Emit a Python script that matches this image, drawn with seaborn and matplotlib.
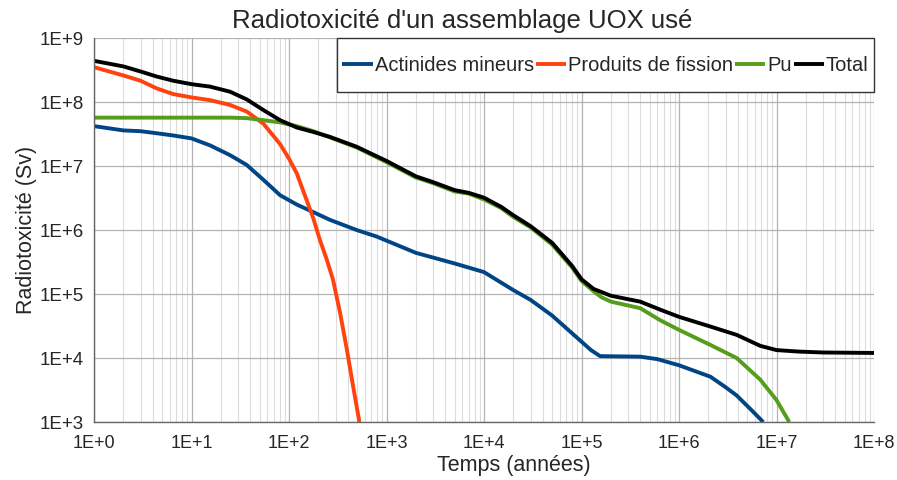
import numpy as np
import pandas as pd
import matplotlib
matplotlib.use('Agg')
import matplotlib.pyplot as plt
import seaborn as sns
from matplotlib.ticker import FuncFormatter, NullFormatter, FixedLocator
from matplotlib.patches import Rectangle

# Radiotoxicity (Sv) vs time (years)
am_t = [1, 2, 3, 4.4, 6.5, 10, 15.5, 24.8, 36.8, 54.5, 81, 120, 178, 263, 494,
        793, 2000, 5000, 1e4, 2e4, 3e4, 5e4, 1e5, 1.25e5, 1.55e5, 4e5, 6e5,
        1e6, 2.1e6, 3e6, 3.9e6, 5.5e6, 7.3e6]
am_v = [4.2e7, 3.6e7, 3.5e7, 3.25e7, 3.0e7, 2.7e7, 2.1e7, 1.48e7, 1.04e7, 6.1e6,
        3.5e6, 2.5e6, 1.9e6, 1.44e6, 1.0e6, 7.9e5, 4.4e5, 3.0e5, 2.2e5, 1.15e5,
        8.1e4, 4.6e4, 1.8e4, 1.33e4, 1.07e4, 1.05e4, 9.6e3, 7.7e3, 5.1e3, 3.5e3,
        2.6e3, 1.55e3, 1e3]

pf_t = [1, 2, 3, 4.4, 6.5, 10, 15.5, 24.8, 36.8, 54.5, 81, 100, 120, 152, 178,
        208, 243, 282, 333, 393, 456, 527]
pf_v = [3.5e8, 2.6e8, 2.15e8, 1.63e8, 1.33e8, 1.18e8, 1.07e8, 9e7, 7.1e7, 4.6e7,
        2.2e7, 1.3e7, 7.7e6, 2.9e6, 1.5e6, 6.9e5, 3.5e5, 1.7e5, 5.2e4, 1.33e4,
        3.5e3, 1e3]

pu_t = [1, 10, 24.8, 36.8, 54.5, 81, 120, 178, 263, 494, 1000, 2000, 3000, 5000,
        7000, 1e4, 1.5e4, 2e4, 3e4, 5e4, 8e4, 1e5, 1.33e5, 1.6e5, 2e5, 4e5, 6.4e5,
        1e6, 2.1e6, 3.9e6, 6.8e6, 1e7, 1.35e7]
pu_v = [5.7e7, 5.7e7, 5.7e7, 5.6e7, 5.2e7, 4.8e7, 4.2e7, 3.5e7, 2.8e7, 1.95e7,
        1.15e7, 6.6e6, 5.4e6, 4.0e6, 3.7e6, 3.0e6, 2.2e6, 1.6e6, 1.1e6, 5.9e5,
        2.6e5, 1.6e5, 1.1e5, 8.9e4, 7.6e4, 6e4, 3.9e4, 2.75e4, 1.6e4, 1e4, 4.6e3,
        2.2e3, 1e3]

tot_t = [1, 2, 3, 4.4, 6.5, 10, 15.5, 24.8, 36.8, 54.5, 81, 120, 178, 263, 494,
         1000, 2000, 3000, 5000, 7000, 1e4, 1.5e4, 2e4, 3e4, 5e4, 8e4, 1e5,
         1.33e5, 2e5, 4e5, 6.4e5, 1e6, 2.1e6, 3.9e6, 6.8e6, 1e7, 1.7e7, 3e7, 1e8]
tot_v = [4.4e8, 3.6e8, 3.0e8, 2.5e8, 2.15e8, 1.9e8, 1.74e8, 1.45e8, 1.1e8, 7.5e7,
         5.2e7, 4.0e7, 3.4e7, 2.85e7, 2.0e7, 1.2e7, 6.9e6, 5.6e6, 4.2e6, 3.8e6,
         3.2e6, 2.3e6, 1.7e6, 1.15e6, 6.3e5, 2.75e5, 1.7e5, 1.2e5, 9.4e4, 7.6e4,
         5.7e4, 4.4e4, 3.1e4, 2.3e4, 1.55e4, 1.33e4, 1.26e4, 1.22e4, 1.2e4]

series = ['Actinides mineurs', 'Produits de fission', 'Pu', 'Total']
colors = ['#004586', '#ff420e', '#579d1c', '#000000']
xticks = [1e0, 1e1, 1e2, 1e3, 1e4, 1e5, 1e6, 1e7, 1e8]
yticks = [1e3, 1e4, 1e5, 1e6, 1e7, 1e8, 1e9]

df = pd.concat([
    pd.DataFrame({'Temps': am_t, 'Radiotoxicite': am_v, 'Serie': series[0]}),
    pd.DataFrame({'Temps': pf_t, 'Radiotoxicite': pf_v, 'Serie': series[1]}),
    pd.DataFrame({'Temps': pu_t, 'Radiotoxicite': pu_v, 'Serie': series[2]}),
    pd.DataFrame({'Temps': tot_t, 'Radiotoxicite': tot_v, 'Serie': series[3]}),
], ignore_index=True)

sns.set_style('white')
plt.rcParams['font.family'] = ['Liberation Sans', 'DejaVu Sans']

fig, ax = plt.subplots(figsize=(8.97, 4.8), dpi=100)
fig.subplots_adjust(left=0.1048, right=0.9744, top=0.9208, bottom=0.1208)

sns.lineplot(data=df, x='Temps', y='Radiotoxicite', hue='Serie', hue_order=series,
             palette=colors, estimator=None, sort=False, linewidth=2.8, ax=ax,
             solid_joinstyle='round', solid_capstyle='butt')

ax.set_xscale('log')
ax.set_yscale('log')
ax.set_xlim(1, 1e8)
ax.set_ylim(1e3, 1e9)

minor_x = [m * d for d in xticks[:-1] for m in range(2, 10)]
fmt = FuncFormatter(lambda v, p: '1E+%d' % int(round(np.log10(v))))
ax.xaxis.set_major_locator(FixedLocator(xticks))
ax.xaxis.set_minor_locator(FixedLocator(minor_x))
ax.xaxis.set_major_formatter(fmt)
ax.xaxis.set_minor_formatter(NullFormatter())
ax.yaxis.set_major_locator(FixedLocator(yticks))
ax.yaxis.set_minor_locator(FixedLocator([]))
ax.yaxis.set_major_formatter(fmt)
ax.yaxis.set_minor_formatter(NullFormatter())

ax.grid(True, which='major', color='#b3b3b3', linewidth=0.9)
ax.grid(True, which='minor', axis='x', color='#dcdcdc', linewidth=0.8)
ax.set_axisbelow(True)

for s in ['top', 'right']:
    ax.spines[s].set_visible(False)
for s in ['left', 'bottom']:
    ax.spines[s].set_color('#666666')
    ax.spines[s].set_linewidth(1)

ax.tick_params(axis='x', which='major', length=4, width=1, color='#666666',
               labelsize=13, pad=5)
ax.tick_params(axis='y', which='major', length=5.5, width=1, color='#666666',
               labelsize=13.5, pad=2)
ax.tick_params(which='minor', length=0)

ax.set_title("Radiotoxicité d'un assemblage UOX usé", fontsize=18.5, pad=7, x=0.472)
ax.set_xlabel('Temps (années)', fontsize=15.5)
ax.set_ylabel('Radiotoxicité (Sv)', fontsize=15.5)
ax.xaxis.set_label_coords(0.538, -0.085)
ax.yaxis.set_label_coords(-0.073, 0.5)

# legend box
handles, labels = ax.get_legend_handles_labels()
ax.get_legend().remove()
box = Rectangle((0.3115, 0.859), 0.6885, 0.141, transform=ax.transAxes,
                facecolor='white', edgecolor='#333333', linewidth=1,
                zorder=4, clip_on=False)
ax.add_patch(box)
ax.legend(handles, labels, ncol=4, loc='center',
          bbox_to_anchor=(0.3115, 0.859, 0.6885, 0.141),
          fontsize=14.5, frameon=False, handlelength=1.5,
          handletextpad=0.1, columnspacing=0.1, borderpad=0.1)

plt.savefig('out.png', dpi=100)
